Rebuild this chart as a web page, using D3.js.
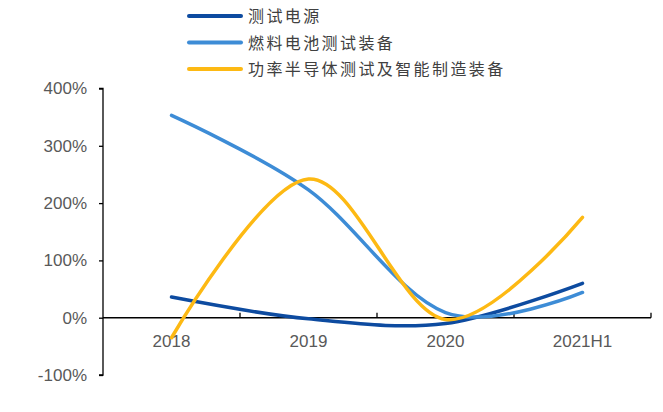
<!DOCTYPE html>
<html><head><meta charset="utf-8">
<script src="https://cdn.jsdelivr.net/npm/d3@7"></script>
<style>body{margin:0;background:#fff}svg{display:block}</style>
</head><body>
<svg id="c" width="663" height="412"></svg>
<script>
const categories = ["2018","2019","2020","2021H1"];
const seriesNames = ["测试电源","燃料电池测试装备","功率半导体测试及智能制造装备"];
const testPower = [36, -2, -10, 60];
const fuelCell = [353, 223, 9, 44];
const powerSemi = [-35, 242, -3, 175];
const yTicks = [-100, 0, 100, 200, 300, 400];
const colors = ["#0D4BA0", "#3D8CD6", "#FDB913"];

const svg = d3.select("#c");
const x = d3.scaleBand().domain(categories).range([103, 651]);
const y = d3.scaleLinear().domain([-100, 400]).range([375, 88.5]);

// y axis
const yAxis = svg.append("g").attr("transform","translate(103,0)")
  .call(d3.axisLeft(y).tickValues(yTicks).tickSize(4).tickPadding(12).tickFormat(d => d + "%"));
yAxis.select(".domain").attr("stroke","#000").attr("stroke-width",1.3).attr("d","M-4,"+y(400)+"H0V"+y(-100)+"H-4");
yAxis.selectAll(".tick line").attr("stroke","#000").attr("stroke-width",1.3);
yAxis.selectAll(".tick text").attr("fill","#595959").style("font-family","Liberation Sans, Arial, sans-serif").style("font-size","17px");

// x axis at 0
const xg = svg.append("g").attr("transform","translate(0,"+y(0)+")");
xg.append("line").attr("x1",103).attr("x2",651).attr("stroke","#000").attr("stroke-width",1.5);
const bounds = categories.map(c => x(c) + x.bandwidth());
xg.selectAll("line.tk").data(bounds).enter().append("line").attr("class","tk")
  .attr("x1",d=>d).attr("x2",d=>d).attr("y1",0).attr("y2",-5).attr("stroke","#000").attr("stroke-width",1.3);
xg.selectAll("text").data(categories).enter().append("text")
  .attr("x",d=>x(d)+x.bandwidth()/2).attr("y",29.5).attr("text-anchor","middle")
  .attr("fill","#595959").style("font-family","Liberation Sans, Arial, sans-serif").style("font-size","17px").text(d=>d);

const line = d3.line().x((d,i)=>x(categories[i])+x.bandwidth()/2).y(d=>y(d)).curve(d3.curveCatmullRom.alpha(0));
[testPower, fuelCell, powerSemi].forEach((s,i)=>{
  svg.append("path").attr("d", line(s)).attr("fill","none").attr("stroke",colors[i]).attr("stroke-width",3.5).attr("stroke-linecap","round");
});
// legend
const lg = svg.append("g");
seriesNames.forEach((n,i)=>{
  const yy = 16 + i*26.5;
  lg.append("line").attr("x1",189).attr("x2",241).attr("y1",yy).attr("y2",yy).attr("stroke",colors[i]).attr("stroke-width",4).attr("stroke-linecap","round");
  lg.append("text").attr("x",248).attr("y",yy+6).attr("fill","#404040")
    .style("font-family","Noto Sans CJK SC").style("font-size","16px").style("letter-spacing","2.4px").text(n);
});
</script>
</body></html>
